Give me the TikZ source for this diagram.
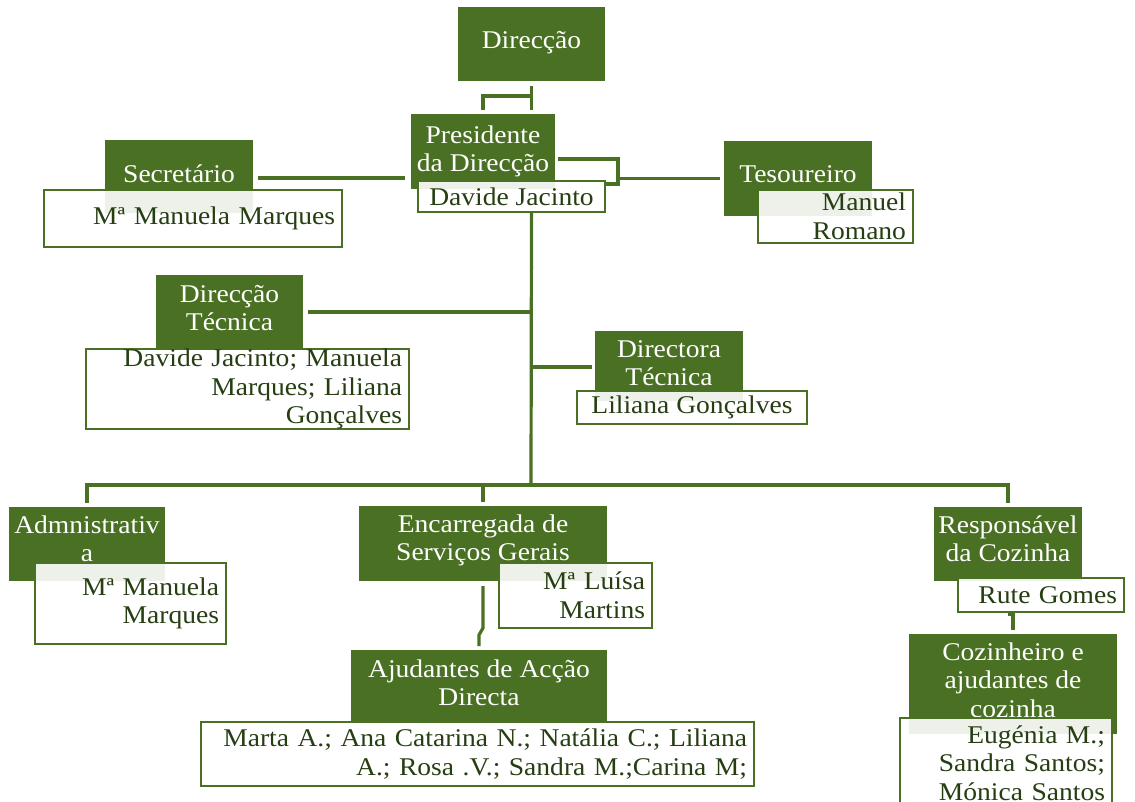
\documentclass[tikz,border=0pt]{standalone}
\usepackage{fontspec}
\setmainfont{Liberation Serif}[FakeStretch=1.08]
\usetikzlibrary{backgrounds}
\definecolor{og}{RGB}{74,113,35}
\definecolor{tg}{RGB}{38,62,18}
\begin{document}
\begin{tikzpicture}[x=1pt,y=-1pt,
  every node/.style={font=\fontsize{25.5}{28.5}\selectfont},
  gbox/.style={fill=og, inner sep=0pt, outer sep=0pt, anchor=north west},
  gt/.style={text=white, align=center, inner sep=0pt},
  wbox/.style={draw=og, line width=2.6pt, fill=white, fill opacity=0.9, text opacity=1, text=tg, inner sep=0pt, outer sep=0pt, anchor=north west, align=right},
  conn/.style={draw=og, line width=3.2pt}]
\useasboundingbox (0,0) rectangle (1135,802);

% green boxes and name boxes
\node[gbox, minimum width=147pt, minimum height=74pt, label={[gt,yshift=1pt]center:Direcção}] (dir) at (458,7) {};

\node[gbox, minimum width=144pt, minimum height=75pt, label={[gt,yshift=0pt]center:Presidente\\da Direcção}] (pres) at (411,114) {};
\node[wbox, minimum width=187pt, minimum height=31pt, align=center] (presw) at (418,181) {Davide Jacinto};

\node[gbox, minimum width=148pt, minimum height=73pt, label={[gt,yshift=3pt]center:Secretário}] (sec) at (105,140) {};
\node[wbox, minimum width=298pt, minimum height=57pt, text width=284pt] (secw) at (44,190) {Mª Manuela Marques};

\node[gbox, minimum width=148pt, minimum height=75pt, label={[gt,yshift=4pt]center:Tesoureiro}] (tes) at (724,141) {};
\node[wbox, minimum width=155pt, minimum height=53pt, text width=141pt] (tesw) at (758,190) {Manuel\\Romano};

\node[gbox, minimum width=147pt, minimum height=74pt, label={[gt,yshift=4pt]center:Direcção\\Técnica}] (dt) at (156,275) {};
\node[wbox, minimum width=323pt, minimum height=76pt, text width=309pt] (dtw) at (86,349) {Davide Jacinto; Manuela\\Marques; Liliana\\Gonçalves};

\node[gbox, minimum width=148pt, minimum height=70pt, label={[gt,yshift=3pt]center:Directora\\Técnica}] (dra) at (595,331) {};
\node[wbox, minimum width=230pt, minimum height=33pt, align=center] (draw) at (577,391) {Liliana Gonçalves};

\node[gbox, minimum width=156pt, minimum height=74pt, label={[gt,yshift=5pt]center:Admnistrativ\\a}] (adm) at (9,507) {};
\node[wbox, minimum width=191pt, minimum height=81pt, text width=177pt] (admw) at (35,563) {Mª Manuela\\Marques};

\node[gbox, minimum width=248pt, minimum height=75pt, label={[gt,yshift=3pt]center:Encarregada de\\Serviços Gerais}] (enc) at (359,506) {};
\node[wbox, minimum width=153pt, minimum height=65pt, text width=139pt] (encw) at (499,563) {Mª Luísa\\Martins};

\node[gbox, minimum width=256pt, minimum height=72pt, label={[gt,yshift=3pt]center:Ajudantes de Acção\\Directa}] (aju) at (351,650) {};
\node[wbox, minimum width=553pt, minimum height=64pt, text width=539pt] (ajuw) at (201,722) {Marta A.; Ana Catarina N.; Natália C.; Liliana\\A.; Rosa .V.; Sandra M.;Carina M;};

\node[gbox, minimum width=148pt, minimum height=74pt, label={[gt,yshift=5pt]center:Responsável\\da Cozinha}] (res) at (934,507) {};
\node[wbox, minimum width=166pt, minimum height=34pt, text width=152pt] (resw) at (958,578) {Rute Gomes};

\node[gbox, minimum width=208pt, minimum height=100pt, label={[gt,yshift=4pt]center:Cozinheiro e\\ajudantes de\\cozinha}] (coz) at (909,634) {};
\node[wbox, minimum width=212pt, minimum height=90pt, text width=198pt] (cozw) at (900,718) {Eugénia M.;\\Sandra Santos;\\Mónica Santos};

\coordinate (bk1) at (558,159);
\coordinate (bk2) at (618,159);
\coordinate (bk3) at (618,184);
\coordinate (bus) at (531,485);

\begin{pgfonlayer}{background}
% Direcção -> Presidente
\draw[conn] ([yshift=-5pt]dir.south) -- ([yshift=4pt]dir.south |- pres.north);
\draw[conn] ([yshift=-15pt]dir.south) -| ([yshift=4pt]pres.north);
% Secretario
\draw[conn] ([xshift=5pt,yshift=-1.5pt]sec.east) -- ([xshift=-6pt,yshift=-1.5pt]sec.east -| pres.west);
% bracket and Tesoureiro
\draw[conn] (bk1) -- (bk2) -- (bk3) -- (bk3 -| presw.east);
\draw[conn] (bk2 |- tes.west) -- ([xshift=-4pt]tes.west);
% trunk
\draw[conn] (dir.south |- presw.south) -- (bus);
% Direcção Técnica
\draw[conn] ([xshift=5pt]dt.east) -- (dt.east -| dir.south);
% Directora Técnica
\draw[conn] ([yshift=-1pt]dra.west -| dir.south) -- ([xshift=-3pt,yshift=-1pt]dra.west);
% bus
\draw[conn] ([yshift=4pt]adm.north) |- (bus) -| ([yshift=4pt]res.north);
\draw[conn] (enc.north |- bus) -- ([yshift=4pt]enc.north);
% Encarregada -> Ajudantes
\draw[conn] ([yshift=-5pt]enc.south) -- ([yshift=-47pt]enc.south) -- ([yshift=15pt]aju.north) -- ([yshift=4pt]aju.north);
% Responsavel -> Cozinheiro
\draw[conn] ([xshift=-5pt,yshift=-2pt]coz.north |- resw.south) -- ([yshift=-2pt]coz.north |- resw.south) -- ([yshift=4pt]coz.north);
\end{pgfonlayer}
\end{tikzpicture}
\end{document}
